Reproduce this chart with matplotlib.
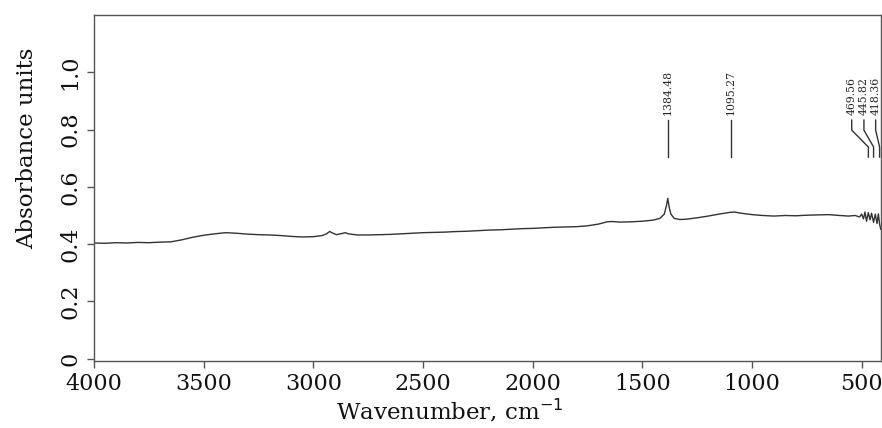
import matplotlib.pyplot as plt

# spectrum
wavenumber = [4000, 3950, 3900, 3850, 3800, 3750, 3700, 3650, 3600, 3550,
              3500, 3450, 3400, 3350, 3300, 3250, 3200, 3150, 3100, 3050,
              3000, 2960, 2940, 2926, 2910, 2895, 2870, 2855, 2840, 2800,
              2750, 2700, 2650, 2600, 2550, 2500, 2450, 2400, 2350, 2300,
              2250, 2200, 2150, 2100, 2050, 2000, 1950, 1900, 1850, 1800,
              1750, 1700, 1660, 1640, 1600, 1550, 1500, 1450, 1420, 1400,
              1390, 1384, 1378, 1370, 1355, 1330, 1300, 1250, 1200, 1150,
              1100, 1080, 1050, 1000, 950, 900, 850, 800, 750, 700,
              650, 600, 560, 530, 510, 500, 492, 485, 478, 470,
              462, 455, 446, 438, 430, 424, 418, 413]
absorbance = [0.404, 0.403, 0.405, 0.404, 0.406, 0.405, 0.407, 0.408, 0.415, 0.424,
              0.431, 0.436, 0.440, 0.438, 0.435, 0.433, 0.432, 0.430, 0.427, 0.425,
              0.426, 0.430, 0.436, 0.444, 0.438, 0.433, 0.437, 0.440, 0.436, 0.432,
              0.432, 0.433, 0.434, 0.436, 0.438, 0.440, 0.441, 0.442, 0.444, 0.445,
              0.447, 0.449, 0.450, 0.452, 0.454, 0.455, 0.457, 0.459, 0.460, 0.461,
              0.464, 0.470, 0.478, 0.479, 0.477, 0.478, 0.480, 0.484, 0.490, 0.505,
              0.535, 0.560, 0.530, 0.505, 0.490, 0.486, 0.487, 0.492, 0.498, 0.505,
              0.511, 0.512, 0.508, 0.503, 0.500, 0.498, 0.500, 0.499, 0.501, 0.502,
              0.503, 0.500, 0.498, 0.500, 0.495, 0.505, 0.488, 0.512, 0.480, 0.510,
              0.485, 0.508, 0.476, 0.505, 0.472, 0.506, 0.468, 0.452]

peaks = [1384.48, 1095.27, 469.56, 445.82, 418.36]
peak_labels = ["1384.48", "1095.27", "469.56", "445.82", "418.36"]
# how far (cm-1) each label is pushed left so crowded labels don't overlap
label_shift = [0, 0, 76, 44, 18]

x_ticks = [4000, 3500, 3000, 2500, 2000, 1500, 1000, 500]
y_ticks = [0, 0.2, 0.4, 0.6, 0.8, 1.0]
y_ticklabels = ["0", "0.2", "0.4", "0.6", "0.8", "1.0"]

plt.rcParams['font.family'] = 'DejaVu Serif'

fig = plt.figure(figsize=(8.82, 4.28), dpi=100)
ax = fig.add_axes([94 / 882, 1 - 361 / 428, 787 / 882, 346 / 428])

ax.plot(wavenumber, absorbance, color="#333333", lw=1.0)

# peak markers
for p, lab, s in zip(peaks, peak_labels, label_shift):
    lx = p + s
    ax.plot([lx, lx, p, p], [0.833, 0.798, 0.739, 0.704], color="#333333", lw=1.0)
    ax.text(lx, 0.85, lab, rotation=90, ha="center", va="bottom",
            fontsize=7.8, color="#222222")

ax.set_xlim(4000, 412)
ax.set_ylim(-0.008, 1.2)
ax.set_xticks(x_ticks)
ax.set_yticks(y_ticks)
ax.set_yticklabels(y_ticklabels, rotation=90, va="center")
ax.tick_params(axis="both", labelsize=16, colors="#555555", labelcolor="#111111",
               length=5, width=1, direction="out")
ax.tick_params(axis="y", pad=4)

for sp in ax.spines.values():
    sp.set_color("#555555")
    sp.set_linewidth(1.0)

ax.set_xlabel("Wavenumber, cm$^{-1}$", fontsize=16.5, color="#111111")
ax.set_ylabel("Absorbance units", fontsize=16.5, color="#111111")
ax.xaxis.set_label_coords(0.452, -0.105)
ax.yaxis.set_label_coords(-0.071, 0.616)

fig.savefig("out.png", dpi=100)
